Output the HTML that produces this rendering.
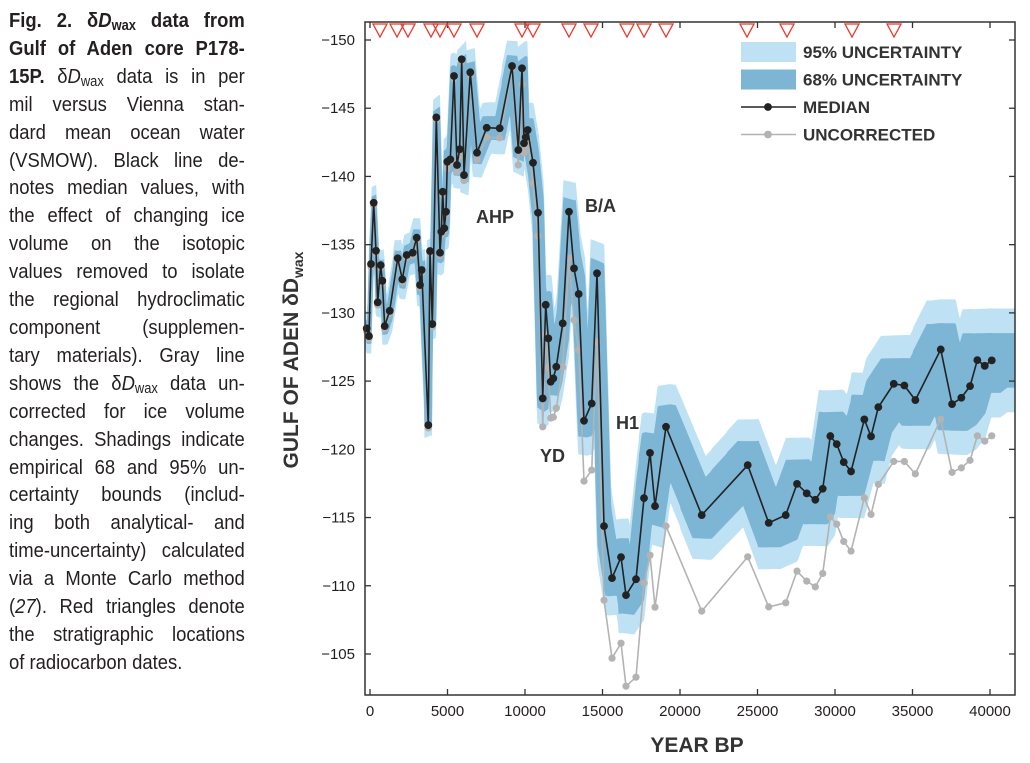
<!DOCTYPE html>
<html><head><meta charset="utf-8">
<style>
body{margin:0;background:#fff;width:1030px;height:763px;overflow:hidden;position:relative;font-family:"Liberation Sans",sans-serif}
#cap{position:absolute;left:9px;top:7px;width:262px;transform:scaleX(0.9);transform-origin:0 0;font-family:"Liberation Sans",sans-serif;font-size:20.5px;line-height:27.9px;color:#231f20}
#cap div{text-align:justify;text-align-last:justify;white-space:nowrap;overflow:visible}
#cap div.last{text-align-last:left}
#cap b{font-weight:bold}
sub{font-size:70%;vertical-align:-3px;line-height:0}
</style></head><body>
<div id="cap">
<div><b>Fig. 2. δ<i>D</i><sub>wax</sub> data from</b></div>
<div><b>Gulf of Aden core P178-</b></div>
<div><b>15P.</b> δ<i>D</i><sub>wax</sub> data is in per</div>
<div>mil versus Vienna stan-</div>
<div>dard mean ocean water</div>
<div>(VSMOW). Black line de-</div>
<div>notes median values, with</div>
<div>the effect of changing ice</div>
<div>volume on the isotopic</div>
<div>values removed to isolate</div>
<div>the regional hydroclimatic</div>
<div>component (supplemen-</div>
<div>tary materials). Gray line</div>
<div>shows the δ<i>D</i><sub>wax</sub> data un-</div>
<div>corrected for ice volume</div>
<div>changes. Shadings indicate</div>
<div>empirical 68 and 95% un-</div>
<div>certainty bounds (includ-</div>
<div>ing both analytical- and</div>
<div>time-uncertainty) calculated</div>
<div>via a Monte Carlo method</div>
<div>(<i>27</i>). Red triangles denote</div>
<div>the stratigraphic locations</div>
<div class="last">of radiocarbon dates.</div>
</div>
<svg id="chart" width="1030" height="763" style="position:absolute;left:0;top:0"></svg>
<script>
const ages=[-213,-65,65,239,387,497,690,794,948,1271,1787,2084,2368,2755,3013,3226,3336,3761,3871,4020,4278,4516,4600,4691,4794,4903,4987,5181,5420,5613,5787,5916,6065,6471,6904,7529,8368,9162,9568,9807,9936,10046,10175,10517,10839,11143,11336,11504,11659,11827,12020,12433,12839,13162,13465,13807,14304,14646,15098,15614,16194,16517,17162,17678,18065,18388,19097,21401,24369,25724,26821,27550,28176,28731,29208,29699,30111,30563,31034,31893,32325,32796,33790,34474,35184,36822,37551,38151,38713,39184,39661,40113];
const median=[-128.86,-128.3,-133.58,-138.07,-134.55,-130.77,-133.5,-132.35,-129.03,-130.15,-134.0,-132.46,-134.24,-134.41,-135.51,-132.04,-133.14,-121.77,-134.53,-129.18,-144.33,-134.41,-135.95,-138.88,-136.2,-137.41,-141.08,-141.25,-147.36,-140.84,-141.99,-148.59,-140.1,-147.63,-141.74,-143.57,-143.53,-148.09,-141.94,-147.93,-142.43,-142.87,-143.4,-141.0,-137.34,-123.73,-130.59,-128.13,-124.95,-125.2,-126.05,-129.23,-137.41,-133.26,-131.38,-122.09,-123.36,-132.9,-114.37,-110.56,-112.1,-109.31,-110.48,-116.42,-119.74,-115.84,-121.65,-115.18,-118.84,-114.61,-115.18,-117.47,-116.77,-116.3,-117.11,-120.97,-120.38,-119.06,-118.38,-122.19,-120.95,-123.09,-124.8,-124.68,-123.61,-127.32,-123.31,-123.78,-124.63,-126.54,-126.12,-126.52];
const uncorrected=[-128.66,-128.1,-133.38,-137.87,-134.35,-130.57,-133.3,-132.15,-128.83,-129.95,-133.8,-132.26,-134.04,-134.21,-135.31,-131.84,-132.94,-121.57,-134.33,-128.98,-144.13,-134.21,-135.75,-138.68,-136.0,-137.21,-140.58,-141.05,-147.16,-140.34,-141.49,-148.39,-139.7,-147.43,-141.24,-142.87,-142.83,-147.89,-140.84,-146.73,-141.73,-142.07,-142.6,-139.5,-135.64,-121.65,-128.37,-126.0,-122.29,-122.36,-123.02,-126.03,-134.02,-129.47,-127.27,-117.67,-118.48,-127.86,-108.94,-104.69,-105.79,-102.64,-103.3,-110.19,-112.24,-108.43,-114.37,-108.14,-112.12,-108.45,-108.75,-111.07,-110.34,-109.92,-110.9,-115.05,-114.52,-113.25,-112.54,-116.44,-115.23,-117.43,-119.11,-119.11,-118.2,-122.21,-118.31,-118.64,-119.19,-120.99,-120.6,-120.99];
const ciAges=[0,5000,10000,15000,20000,25000,30000,35000,40000];
const ci68=[0.6,0.8,0.9,1.3,1.7,1.8,1.8,1.9,2.0];
const ci95=[1.3,1.7,2.0,2.7,3.2,3.4,3.4,3.6,3.8];
const ageWin=[150,250,350,450,600,700,800,900,1000];
const c14Dates=[645,1742,2452,3936,4516,5420,6904,9807,10517,12839,14259,16581,17678,19097,24323,26904,31097,33807];
const xTicks=[0,5000,10000,15000,20000,25000,30000,35000,40000];
const yTicks=[-150,-145,-140,-135,-130,-125,-120,-115,-110,-105];

const L=365,R=1015,T=22,B=695;
const X=v=>370+(v/40000)*620;
const Y=v=>40+(v+150)*13.644;
const xmin=(L-370)/620*40000, xmax=(R-370)/620*40000;
const NS='http://www.w3.org/2000/svg';
const svg=document.getElementById('chart');
function mk(tag,at,parent){const e=document.createElementNS(NS,tag);for(const k in at)e.setAttribute(k,at[k]);(parent||svg).appendChild(e);return e;}
function lerp(xs,ys,t){if(t<=xs[0])return ys[0];for(let i=1;i<xs.length;i++){if(t<=xs[i]){const f=(t-xs[i-1])/(xs[i]-xs[i-1]);return ys[i-1]+f*(ys[i]-ys[i-1]);}}return ys[ys.length-1];}

const defs=mk('defs',{});
const cp=mk('clipPath',{id:'clip'},defs);
mk('rect',{x:L,y:T,width:R-L,height:B-T},cp);

const grid=[];for(let t=xmin;t<=xmax;t+=40)grid.push(t);
function band(widths,name,color){
  const up=[],lo=[];
  grid.forEach(t=>{
    const w=lerp(ciAges,widths,t),win=lerp(ciAges,ageWin,t);
    let mn=Infinity,mx=-Infinity,found=false;
    for(let s=t-win;s<=t+win;s+=40){if(s<ages[0]-win*0.3||s>ages[ages.length-1]+win*0.9)continue;const m=lerp(ages,median,Math.min(Math.max(s,ages[0]),ages[ages.length-1]));mn=Math.min(mn,m);mx=Math.max(mx,m);found=true;}
    if(!found)return;
    up.push([X(t),Y(mn-w)]);lo.push([X(t),Y(mx+w)]);
  });
  const pts=up.concat(lo.reverse()).map(p=>p[0].toFixed(1)+','+p[1].toFixed(1)).join(' ');
  const p=mk('polygon',{points:pts,fill:color,'clip-path':'url(#clip)'});
  
  
}
band(ci95,'band-95-uncertainty','#bee2f4');
band(ci68,'band-68-uncertainty','#7db5d5');

const gp=mk('polyline',{points:ages.map((a,i)=>X(a)+','+Y(uncorrected[i])).join(' '),fill:'none',stroke:'#b3b3b3','stroke-width':1.6,'clip-path':'url(#clip)'});


ages.forEach((a,i)=>{const c=mk('circle',{cx:X(a),cy:Y(uncorrected[i]),r:3.6,fill:'#b3b3b3'});

});
const mp=mk('polyline',{points:ages.map((a,i)=>X(a)+','+Y(median[i])).join(' '),fill:'none',stroke:'#222','stroke-width':1.6,'clip-path':'url(#clip)'});


ages.forEach((a,i)=>{const c=mk('circle',{cx:X(a),cy:Y(median[i]),r:3.9,fill:'#222'});

});

const box=mk('rect',{x:L,y:T,width:R-L,height:B-T,fill:'none',stroke:'#333','stroke-width':1.5});


xTicks.forEach(v=>{const x=X(v);
  mk('line',{x1:x,x2:x,y1:B,y2:B-6,stroke:'#333','stroke-width':1.3});
  mk('line',{x1:x,x2:x,y1:T,y2:T+6,stroke:'#333','stroke-width':1.3});
  const t=mk('text',{x:x,y:B+21,'text-anchor':'middle','font-size':15,fill:'#231f20'});t.textContent=v;
  
  });
yTicks.forEach(v=>{const y=Y(v);
  mk('line',{x1:L,x2:L+6,y1:y,y2:y,stroke:'#333','stroke-width':1.3});
  mk('line',{x1:R,x2:R-6,y1:y,y2:y,stroke:'#333','stroke-width':1.3});
  const t=mk('text',{x:L-10,y:y+5,'text-anchor':'end','font-size':15,fill:'#231f20'});t.textContent='\u2212'+Math.abs(v);
  
  });

c14Dates.forEach(a=>{const x=X(a);
  const p=mk('polygon',{points:`${x-7},${T+2} ${x+7},${T+2} ${x},${T+15}`,fill:'none',stroke:'#e8392a','stroke-width':1.3});
  
  });

[['AHP',476,223],['B/A',585,212],['YD',540,462],['H1',616,429]].forEach(([s,x,y])=>{
  const t=mk('text',{x:x,y:y,'font-size':18,'font-weight':'bold',fill:'#333'});t.textContent=s;
  
  });

const xt=mk('text',{x:697,y:752,'text-anchor':'middle','font-size':21,'font-weight':'bold',fill:'#333'});xt.textContent='YEAR BP';


const yt=mk('text',{transform:'translate(298,360) rotate(-90)','text-anchor':'middle','font-size':21,'font-weight':'bold',fill:'#333'});
yt.innerHTML='GULF OF ADEN δD<tspan font-size="14" dy="5">wax</tspan>';



const lg=mk('g',{});


const items=[['95% UNCERTAINTY','#bee2f4'],['68% UNCERTAINTY','#7db5d5'],['MEDIAN','#222'],['UNCORRECTED','#b3b3b3']];
items.forEach(([lab,col],i)=>{const y=52+i*27.5;
  if(i<2){mk('rect',{x:741,y:y-10,width:55,height:20,fill:col},lg);}
  else{mk('line',{x1:741,x2:796,y1:y,y2:y,stroke:col,'stroke-width':1.6},lg);mk('circle',{cx:768,cy:y,r:3.9,fill:col},lg);}
  const t=mk('text',{x:803,y:y+6,'font-size':17,'font-weight':'bold',fill:'#333'},lg);t.textContent=lab;
  
  });
</script>
</body></html>
